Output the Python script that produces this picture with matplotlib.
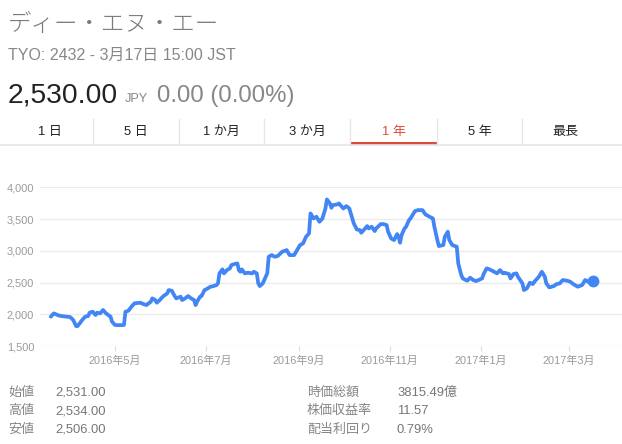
import matplotlib
matplotlib.use("Agg")
import matplotlib.pyplot as plt
import pandas as pd
from matplotlib.lines import Line2D
from matplotlib.patches import Rectangle

# ---------------- data ----------------
dates = [
    "2016-03-19", "2016-03-21", "2016-03-24", "2016-03-26", "2016-03-30", "2016-04-01",
    "2016-04-03", "2016-04-05", "2016-04-06", "2016-04-09", "2016-04-11", "2016-04-13",
    "2016-04-14", "2016-04-16", "2016-04-18", "2016-04-19", "2016-04-21", "2016-04-23",
    "2016-04-25", "2016-04-28", "2016-04-29", "2016-05-01", "2016-05-04", "2016-05-07",
    "2016-05-08", "2016-05-10", "2016-05-12", "2016-05-14", "2016-05-18", "2016-05-20",
    "2016-05-22", "2016-05-25", "2016-05-26", "2016-05-28", "2016-05-29", "2016-05-31",
    "2016-06-02", "2016-06-05", "2016-06-06", "2016-06-08", "2016-06-10", "2016-06-11",
    "2016-06-14", "2016-06-15", "2016-06-17", "2016-06-19", "2016-06-21", "2016-06-23",
    "2016-06-24", "2016-06-25", "2016-06-27", "2016-06-28", "2016-06-30", "2016-07-01",
    "2016-07-04", "2016-07-06", "2016-07-08", "2016-07-09", "2016-07-10", "2016-07-12",
    "2016-07-13", "2016-07-15", "2016-07-17", "2016-07-18", "2016-07-20", "2016-07-22",
    "2016-07-23", "2016-07-24", "2016-07-25", "2016-07-27", "2016-07-29", "2016-08-01",
    "2016-08-02", "2016-08-04", "2016-08-05", "2016-08-06", "2016-08-08", "2016-08-11",
    "2016-08-12", "2016-08-14", "2016-08-16", "2016-08-18", "2016-08-21", "2016-08-23",
    "2016-08-24", "2016-08-26", "2016-08-29", "2016-08-31", "2016-09-02", "2016-09-04",
    "2016-09-06", "2016-09-08", "2016-09-09", "2016-09-11", "2016-09-13", "2016-09-15",
    "2016-09-17", "2016-09-19", "2016-09-20", "2016-09-22", "2016-09-23", "2016-09-24",
    "2016-09-27", "2016-09-28", "2016-09-30", "2016-10-01", "2016-10-03", "2016-10-05",
    "2016-10-07", "2016-10-08", "2016-10-10", "2016-10-12", "2016-10-13", "2016-10-15",
    "2016-10-17", "2016-10-18", "2016-10-20", "2016-10-22", "2016-10-23", "2016-10-26",
    "2016-10-28", "2016-10-30", "2016-10-31", "2016-11-02", "2016-11-04", "2016-11-06",
    "2016-11-07", "2016-11-08", "2016-11-09", "2016-11-11", "2016-11-12", "2016-11-14",
    "2016-11-15", "2016-11-18", "2016-11-20", "2016-11-23", "2016-11-25", "2016-11-27",
    "2016-11-29", "2016-11-30", "2016-12-01", "2016-12-03", "2016-12-04", "2016-12-07",
    "2016-12-08", "2016-12-10", "2016-12-11", "2016-12-13", "2016-12-16", "2016-12-17",
    "2016-12-19", "2016-12-20", "2016-12-23", "2016-12-25", "2016-12-27", "2016-12-29",
    "2017-01-02", "2017-01-03", "2017-01-05", "2017-01-07", "2017-01-10", "2017-01-12",
    "2017-01-14", "2017-01-16", "2017-01-17", "2017-01-20", "2017-01-21", "2017-01-23",
    "2017-01-25", "2017-01-26", "2017-01-29", "2017-01-30", "2017-02-01", "2017-02-03",
    "2017-02-05", "2017-02-06", "2017-02-09", "2017-02-11", "2017-02-13", "2017-02-14",
    "2017-02-16", "2017-02-19", "2017-02-21", "2017-02-23", "2017-02-25", "2017-02-28",
    "2017-03-02", "2017-03-04", "2017-03-07", "2017-03-10", "2017-03-12", "2017-03-14",
    "2017-03-15", "2017-03-17",
]
prices = [
    1962, 2014, 1983, 1972, 1962, 1956,
    1909, 1812, 1815, 1909, 1962, 1972,
    2025, 2040, 1988, 2025, 2014, 2067,
    2014, 1962, 1883, 1831, 1828, 1831,
    2040, 2056, 2119, 2172, 2182, 2161,
    2145, 2198, 2250, 2224, 2182, 2224,
    2277, 2329, 2381, 2371, 2287, 2250,
    2277, 2224, 2250, 2287, 2250, 2224,
    2145, 2198, 2277, 2287, 2381, 2392,
    2434, 2444, 2460, 2486, 2644, 2707,
    2644, 2696, 2723, 2775, 2791, 2801,
    2696, 2670, 2707, 2644, 2654, 2644,
    2670, 2644, 2486, 2444, 2486, 2644,
    2906, 2932, 2906, 2917, 2985, 3001,
    3011, 2932, 2932, 3011, 3090, 3116,
    3221, 3273, 3588, 3510, 3536, 3457,
    3510, 3667, 3809, 3746, 3678, 3720,
    3730, 3746, 3693, 3667, 3704, 3667,
    3510, 3431, 3336, 3326, 3284, 3336,
    3389, 3352, 3378, 3310, 3352, 3420,
    3420, 3405, 3300, 3195, 3169, 3263,
    3221, 3127, 3247, 3352, 3378, 3483,
    3510, 3625, 3641, 3641, 3573, 3546,
    3520, 3510, 3378, 3169, 3074, 3090,
    3221, 3300, 3169, 3090, 3064, 2801,
    2618, 2565, 2528, 2576, 2539, 2523,
    2565, 2633, 2723, 2707, 2670, 2644,
    2696, 2644, 2654, 2633, 2565, 2633,
    2644, 2591, 2486, 2381, 2408, 2497,
    2476, 2513, 2591, 2670, 2591, 2486,
    2423, 2444, 2476, 2486, 2539, 2528,
    2513, 2476, 2434, 2460, 2539, 2513,
    2523, 2530,
]
yticks = [1500, 2000, 2500, 3000, 3500, 4000]
ytick_labels = ["1,500", "2,000", "2,500", "3,000", "3,500", "4,000"]
xtick_dates = ["2016-05-01", "2016-07-01", "2016-09-01", "2016-11-01", "2017-01-01", "2017-03-01"]
xtick_labels = ["2016年5月", "2016年7月", "2016年9月", "2016年11月", "2017年1月", "2017年3月"]

title = "ディー・エヌ・エー"
subtitle = "TYO: 2432 - 3月17日 15:00 JST"
price_text = "2,530.00"
currency = "JPY"
change_text = "0.00 (0.00%)"
tabs = ["1 日", "5 日", "1 か月", "3 か月", "1 年", "5 年", "最長"]
active_tab = 4
stat_labels_left = ["始値", "高値", "安値"]
stat_values_left = ["2,531.00", "2,534.00", "2,506.00"]
stat_labels_right = ["時価総額", "株価収益率", "配当利回り"]
stat_values_right = ["3815.49億", "11.57", "0.79%"]

# ---------------- figure ----------------
W, H = 622, 444
fig = plt.figure(figsize=(W / 100, H / 100), dpi=100)
fig.patch.set_facecolor("white")
FAM = ["Liberation Sans", "Noto Sans CJK JP", "DejaVu Sans"]
PT = 72 / 100  # px -> pt


def fx(x):
    return x / W


def fy(y):
    return 1 - y / H


def ftext(x, y, s, size_px, color, ha="left", va="baseline", family=FAM, **kw):
    fig.text(fx(x), fy(y), s, fontsize=size_px * PT, color=color, ha=ha, va=va,
             family=family, **kw)


# header
ftext(8, 31, title, 23.5, "#7a7a7a", family=["Noto Sans CJK JP", "DejaVu Sans"],
      fontweight="light")
ftext(8, 60, subtitle, 16, "#878787")
ftext(8, 103, price_text, 28.3, "#222222")
ftext(125, 102, currency, 12.8, "#878787")
ftext(157, 102, change_text, 24, "#878787")

# tabs
tab_edges = [7, 93, 179, 264, 350, 437, 522, 608]
for i, lab in enumerate(tabs):
    cx = (tab_edges[i] + tab_edges[i + 1]) / 2
    col = "#dd4b39" if i == active_tab else "#222222"
    ftext(cx, 135, lab, 13, col, ha="center")
for xe in tab_edges[1:-1]:
    fig.add_artist(Line2D([fx(xe), fx(xe)], [fy(119), fy(145)], color="#e6e6e6",
                          lw=1, transform=fig.transFigure))
fig.add_artist(Line2D([0, 1], [fy(145.5), fy(145.5)], color="#e6e6e6", lw=1.2,
                      transform=fig.transFigure))
fig.add_artist(Rectangle((fx(tab_edges[active_tab] + 1), fy(145.5)),
                         fx(tab_edges[active_tab + 1] - tab_edges[active_tab] - 1),
                         3 / H, color="#dd4b39", transform=fig.transFigure, lw=0))

# chart
ax_left, ax_right, ax_top, ax_bottom = 40, 622, 187.3, 346
ax = fig.add_axes([fx(ax_left), fy(ax_bottom), (ax_right - ax_left) / W,
                   (ax_bottom - ax_top) / H])
d = pd.to_datetime(dates)
ax.plot(d, prices, color="#4285f4", lw=2.7, solid_joinstyle="round",
        solid_capstyle="round", zorder=3, clip_on=False)
ax.plot(d[-1:], prices[-1:], "o", color="#4285f4", ms=7.5, zorder=4, clip_on=False)

ax.set_ylim(1500, 4000)
ref = pd.Timestamp("2016-05-01")
pxday = (568.7 - 115) / 304
ax.set_xlim(ref - pd.Timedelta(days=(115 - ax_left) / pxday),
            ref + pd.Timedelta(days=(ax_right - 115) / pxday))
ax.set_yticks(yticks)
ax.set_yticklabels(ytick_labels)
ax.set_xticks(pd.to_datetime(xtick_dates))
ax.set_xticklabels(xtick_labels)
for s in ax.spines.values():
    s.set_visible(False)
ax.grid(axis="y", color="#ebebeb", lw=1)
ax.set_axisbelow(True)
ax.tick_params(axis="y", length=0, pad=4.2, labelsize=11 * PT, labelcolor="#9a9a9a")
ax.tick_params(axis="x", length=3.8, width=0.8, color="#dcdcdc", pad=3.2,
               labelsize=11 * PT, labelcolor="#9a9a9a")
for t in ax.get_xticklabels() + ax.get_yticklabels():
    t.set_family(FAM)

# stats
rows_y = [395.5, 414, 432.5]
for i in range(3):
    ftext(8, rows_y[i], stat_labels_left[i], 13, "#878787")
    ftext(55, rows_y[i], stat_values_left[i], 13, "#777777")
    ftext(307, rows_y[i], stat_labels_right[i], 13, "#878787")
    ftext(397, rows_y[i], stat_values_right[i], 13, "#777777")

fig.savefig("out.png", dpi=100, facecolor="white")
